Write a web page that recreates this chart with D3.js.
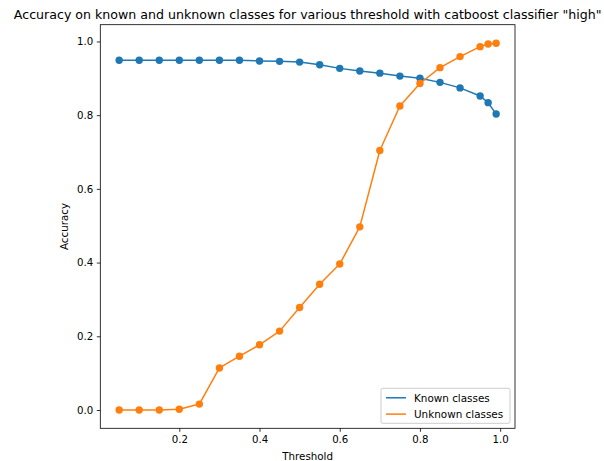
<!DOCTYPE html>
<html>
<head>
<meta charset="utf-8">
<script src="https://cdn.jsdelivr.net/npm/d3@7"></script>
<style>
  html, body { margin: 0; padding: 0; background: #fff; }
  svg { display: block; font-family: "DejaVu Sans", sans-serif; }
</style>
</head>
<body>
<svg id="chart" width="604" height="461"></svg>
<script>
// ---- data ----
const thresholds = [0.05, 0.10, 0.15, 0.20, 0.25, 0.30, 0.35, 0.40, 0.45, 0.50, 0.55, 0.60, 0.65, 0.70, 0.75, 0.80, 0.85, 0.90, 0.95, 0.97, 0.99];
const knownAcc   = [0.949, 0.949, 0.949, 0.949, 0.949, 0.949, 0.949, 0.947, 0.946, 0.944, 0.937, 0.927, 0.920, 0.914, 0.906, 0.900, 0.889, 0.874, 0.852, 0.834, 0.803];
const unknownAcc = [0.000, 0.000, 0.000, 0.002, 0.016, 0.114, 0.146, 0.177, 0.214, 0.278, 0.341, 0.396, 0.497, 0.704, 0.825, 0.886, 0.929, 0.959, 0.986, 0.993, 0.995];
const seriesNames = ["Known classes", "Unknown classes"];
const seriesColors = ["#1f77b4", "#ff7f0e"];
const xTicks = [0.2, 0.4, 0.6, 0.8, 1.0];
const yTicks = [0.0, 0.2, 0.4, 0.6, 0.8, 1.0];
const titleText = 'Accuracy on known and unknown classes for various threshold with catboost classifier "high"';
const xLabel = "Threshold";
const yLabel = "Accuracy";

// ---- layout ----
const L = 100.3, R = 515, T = 24.7, B = 428.3;
const svg = d3.select("#chart");

const x = d3.scaleLinear().domain([0.003, 1.037]).range([L, R]);
const y = d3.scaleLinear().domain([-0.0497, 1.0455]).range([B, T]);

// axes
const xAxis = d3.axisBottom(x).tickValues(xTicks).tickFormat(d3.format(".1f")).tickSize(3.5).tickPadding(3.5);
const yAxis = d3.axisLeft(y).tickValues(yTicks).tickFormat(d3.format(".1f")).tickSize(3.5).tickPadding(3.5);

const gx = svg.append("g").attr("transform", `translate(0,${B})`).call(xAxis);
const gy = svg.append("g").attr("transform", `translate(${L},0)`).call(yAxis);
[gx, gy].forEach(g => {
  g.select(".domain").remove();
  g.selectAll("line").attr("stroke", "#000").attr("stroke-width", 0.8);
  g.selectAll("text").attr("font-size", 10.2).attr("fill", "#000").attr("font-family", "DejaVu Sans, sans-serif");
});

// data lines
const series = [knownAcc, unknownAcc];
series.forEach((vals, i) => {
  const pts = thresholds.map((t, j) => [t, vals[j]]);
  svg.append("path")
    .datum(pts)
    .attr("fill", "none")
    .attr("stroke", seriesColors[i])
    .attr("stroke-width", 1.5)
    .attr("stroke-linejoin", "round")
    .attr("d", d3.line().x(d => x(d[0])).y(d => y(d[1])));
  svg.append("g").selectAll("circle")
    .data(pts)
    .join("circle")
    .attr("cx", d => x(d[0]))
    .attr("cy", d => y(d[1]))
    .attr("r", 3.7)
    .attr("fill", seriesColors[i]);
});

// frame
svg.append("rect")
  .attr("x", L).attr("y", T).attr("width", R - L).attr("height", B - T)
  .attr("fill", "none").attr("stroke", "#000").attr("stroke-width", 0.8);

// title
svg.append("text")
  .attr("x", (L + R) / 2).attr("y", T - 6)
  .attr("text-anchor", "middle")
  .attr("font-size", 12.6)
  .attr("fill", "#000")
  .text(titleText);

// axis labels
svg.append("text")
  .attr("x", (L + R) / 2).attr("y", 460)
  .attr("text-anchor", "middle")
  .attr("font-size", 10.3)
  .attr("fill", "#000")
  .text(xLabel);
svg.append("text")
  .attr("transform", `translate(68,${(T + B) / 2}) rotate(-90)`)
  .attr("text-anchor", "middle")
  .attr("font-size", 10.3)
  .attr("fill", "#000")
  .text(yLabel);

// legend
const lgW = 129, lgH = 35;
const lgX = R - 5 - lgW, lgY = B - 5 - lgH;
const lg = svg.append("g");
lg.append("rect")
  .attr("x", lgX).attr("y", lgY).attr("width", lgW).attr("height", lgH)
  .attr("rx", 2).attr("ry", 2)
  .attr("fill", "#fff").attr("fill-opacity", 0.8)
  .attr("stroke", "#ccc").attr("stroke-width", 1);
seriesNames.forEach((name, i) => {
  const cy = lgY + 9.5 + i * 16.3;
  lg.append("line")
    .attr("x1", lgX + 5).attr("x2", lgX + 25)
    .attr("y1", cy).attr("y2", cy)
    .attr("stroke", seriesColors[i]).attr("stroke-width", 1.5);
  lg.append("text")
    .attr("x", lgX + 33).attr("y", cy + 3.7)
    .attr("font-size", 10.4).attr("fill", "#000")
    .text(name);
});
</script>
</body>
</html>
